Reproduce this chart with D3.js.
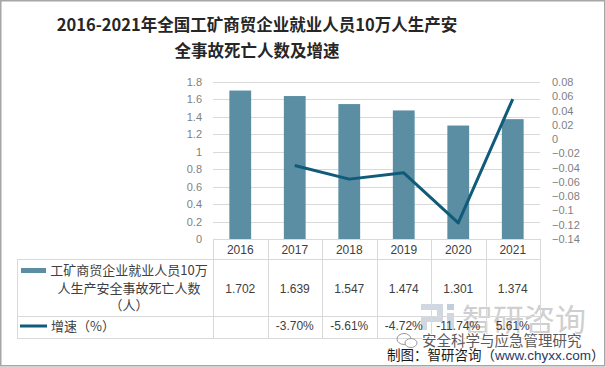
<!DOCTYPE html>
<html><head><meta charset="utf-8">
<script src="https://cdn.jsdelivr.net/npm/d3@7"></script>
<style>
html,body{margin:0;padding:0;background:#fff;}
svg{display:block;}
</style></head>
<body>
<svg id="chart" width="606" height="367"></svg>
<script>
const years = ["2016","2017","2018","2019","2020","2021"];
const deaths = [1.702, 1.639, 1.547, 1.474, 1.301, 1.374];
const growth = [null, -0.0370, -0.0561, -0.0472, -0.1174, 0.0561];
const deathLabels = ["1.702","1.639","1.547","1.474","1.301","1.374"];
const growthLabels = ["", "-3.70%", "-5.61%", "-4.72%", "-11.74%", "5.61%"];
const leftTicks = [0,0.2,0.4,0.6,0.8,1,1.2,1.4,1.6,1.8];
const rightTicks = [0.08,0.06,0.04,0.02,0,-0.02,-0.04,-0.06,-0.08,-0.1,-0.12,-0.14];
const seriesNames = ["工矿商贸企业就业人员10万", "人生产安全事故死亡人数", "（人）"];
const growthName = "增速（%）";
const titleLines = ["2016-2021年全国工矿商贸企业就业人员10万人生产安", "全事故死亡人数及增速"];

const svg = d3.select("#chart");
const barColor = "#5b8ea3", lineColor = "#0f5b79", gridColor = "#d9d9d9";
const latin = "'Liberation Sans', Arial, sans-serif";
const cjk = "'Noto Sans CJK SC', 'Liberation Sans', sans-serif";

const X0 = 213, X1 = 540, YT = 82, YB = 239;
const x = d3.scaleBand().domain(years).range([X0, X1]).padding(0);
const y = d3.scaleLinear().domain([0, 1.8]).range([YB, YT]);
const y2 = d3.scaleLinear().domain([-0.14, 0.08]).range([YB, YT]);

// outer border
svg.append("rect").attr("x",0.75).attr("y",0.75).attr("width",604).attr("height",365)
  .attr("fill","none").attr("stroke","#a6a6a6").attr("stroke-width",1.5);

// title
const title = svg.append("text").attr("text-anchor","middle")
  .attr("font-family", cjk).attr("font-weight","bold").attr("font-size",16.5).attr("fill","#262626");
titleLines.forEach((t,i)=> title.append("tspan").attr("x",257).attr("y",31+i*26).text(t));

// gridlines
svg.append("g").selectAll("line").data(leftTicks.slice(1)).join("line")
  .attr("x1",X0).attr("x2",X1).attr("y1",d=>Math.round(y(d))+0.5).attr("y2",d=>Math.round(y(d))+0.5)
  .attr("stroke",gridColor).attr("stroke-width",1);

// left axis
const la = svg.append("g").attr("transform",`translate(${X0},0)`)
  .call(d3.axisLeft(y).tickValues(leftTicks).tickSize(0).tickPadding(11).tickFormat(d3.format("")));
la.select(".domain").remove();
la.selectAll("text").attr("font-family",latin).attr("font-size",11).attr("fill","#7f7f7f");

// right axis
const ra = svg.append("g").attr("transform",`translate(${X1},0)`)
  .call(d3.axisRight(y2).tickValues(rightTicks).tickSize(0).tickPadding(12).tickFormat(d=>d3.format("")(+d.toFixed(2))));
ra.select(".domain").remove();
ra.selectAll("text").attr("font-family",latin).attr("font-size",11).attr("fill","#7f7f7f");

// bars
const bw = x.bandwidth()*0.4;
svg.append("g").selectAll("rect").data(deaths).join("rect")
  .attr("x",(d,i)=>x(years[i])+x.bandwidth()/2-bw/2)
  .attr("y",d=>y(d)).attr("width",bw).attr("height",d=>YB-y(d))
  .attr("fill",barColor);

// line
const pts = growth.map((g,i)=>({g,yr:years[i]})).filter(d=>d.g!==null);
svg.append("path").datum(pts)
  .attr("d", d3.line().x(d=>x(d.yr)+x.bandwidth()/2).y(d=>y2(d.g)))
  .attr("fill","none").attr("stroke",lineColor).attr("stroke-width",3).attr("stroke-linejoin","round");

// watermark (behind table text)
const wm = svg.append("g");
const logo = wm.append("g").attr("fill","#c9d1dc").attr("opacity",0.85);
logo.append("rect").attr("x",421).attr("y",304).attr("width",22).attr("height",6);
logo.append("rect").attr("x",437).attr("y",304).attr("width",6).attr("height",18);
logo.append("rect").attr("x",421).attr("y",316).attr("width",16).attr("height",6);
logo.append("rect").attr("x",421).attr("y",322).attr("width",6).attr("height",8);
logo.append("rect").attr("x",447).attr("y",304).attr("width",7).attr("height",6).attr("fill","#b9c6d6");
logo.append("rect").attr("x",447).attr("y",313).attr("width",7).attr("height",17);
wm.append("text").attr("x",462).attr("y",331).attr("font-family",cjk).attr("font-size",31)
  .attr("fill","#c4c4c4").attr("opacity",0.8).text("智研咨询");

// data table
const R0 = 259, R1 = 316, R2 = 338, TL = 17;
const tg = svg.append("g").attr("stroke",gridColor).attr("stroke-width",1);
tg.append("line").attr("x1",X0).attr("x2",X1).attr("y1",YB+0.5).attr("y2",YB+0.5);
[R0,R1,R2].forEach(r=> tg.append("line").attr("x1",TL).attr("x2",X1).attr("y1",r+0.5).attr("y2",r+0.5));
tg.append("line").attr("x1",TL+0.5).attr("x2",TL+0.5).attr("y1",R0).attr("y2",R2);
const bounds = years.map(yv=>x(yv)).concat([X1]);
bounds.forEach(b=> tg.append("line").attr("x1",Math.round(b)+0.5).attr("x2",Math.round(b)+0.5).attr("y1",YB).attr("y2",R2));

const tt = svg.append("g").attr("font-family",latin).attr("font-size",12).attr("fill","#404040").attr("text-anchor","middle");
years.forEach((yr,i)=>{
  const cx = x(yr)+x.bandwidth()/2;
  tt.append("text").attr("x",cx).attr("y",254).text(yr);
  tt.append("text").attr("x",cx).attr("y",293).text(deathLabels[i]);
  tt.append("text").attr("x",cx).attr("y",330).text(growthLabels[i]);
});

// legend cells
svg.append("rect").attr("x",21).attr("y",268).attr("width",25).attr("height",5).attr("fill",barColor);
const lt = svg.append("text").attr("font-family",cjk).attr("font-size",13).attr("fill","#404040").attr("text-anchor","middle");
seriesNames.forEach((s,i)=> lt.append("tspan").attr("x",129).attr("y",275+i*17.5).text(s));
svg.append("line").attr("x1",20).attr("x2",47).attr("y1",326).attr("y2",326).attr("stroke",lineColor).attr("stroke-width",3);
svg.append("text").attr("x",51).attr("y",331).attr("font-family",cjk).attr("font-size",13).attr("fill","#404040").text(growthName);

// source lines
const wm2 = svg.append("g");
wm2.append("ellipse").attr("cx",404).attr("cy",339).attr("rx",7).attr("ry",5.5).attr("fill","none").attr("stroke","#9a9a9a").attr("stroke-width",1);
wm2.append("ellipse").attr("cx",411).attr("cy",343).attr("rx",6).attr("ry",4.5).attr("fill","#fff").attr("stroke","#9a9a9a").attr("stroke-width",1);
wm2.append("text").attr("x",422).attr("y",346).attr("font-family",cjk).attr("font-size",14.5)
  .attr("fill","#5a5a5a").attr("stroke","#ffffff").attr("stroke-width",2).attr("paint-order","stroke").text("安全科学与应急管理研究");
const src = wm2.append("text").attr("x",387).attr("y",360).attr("font-family",cjk).attr("font-size",13.5).attr("fill","#1a1a1a");
src.append("tspan").text("制图：智研咨询（");
src.append("tspan").attr("fill","#1f3a66").attr("font-family",latin).text("www.chyxx.com");
src.append("tspan").text("）");
</script>
</body></html>
